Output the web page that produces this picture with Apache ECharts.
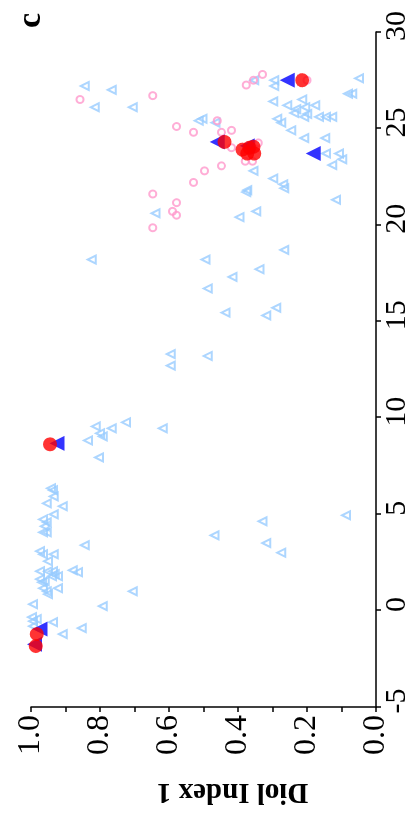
<!DOCTYPE html>
<html>
<head>
<meta charset="utf-8">
<script src="https://cdn.jsdelivr.net/npm/echarts@6/dist/echarts.min.js"></script>
<style>
    html, body { margin: 0; padding: 0; background: #fff; overflow: hidden; }
    #wrap { position: absolute; left: 0; top: 0; width: 412px; height: 814px; overflow: hidden; }
    /* the figure is printed turned on its side */
    #chart { position: absolute; left: 0; top: 0; width: 814px; height: 412px;
             transform-origin: 0 0; transform: translateY(814px) rotate(-90deg); }
</style>
</head>
<body>
<div id="wrap"><div id="chart"></div></div>
<script>
var serifFont = "'Liberation Serif', 'Times New Roman', serif";

// x ticks and y ticks
var xTicks = [-5, 0, 5, 10, 15, 20, 25, 30];
var yTicks = [0.0, 0.2, 0.4, 0.6, 0.8, 1.0];

// open light blue triangles
var lightBlueTri = [
    [27.2, 0.844], [27.0, 0.766], [26.1, 0.815], [26.1, 0.705], [25.4, 0.514], [20.6, 0.639],
    [18.2, 0.824], [13.3, 0.595], [12.7, 0.595], [27.5, 0.353], [27.5, 0.295], [27.2, 0.295],
    [27.6, 0.049], [26.8, 0.081], [26.8, 0.069], [26.4, 0.298], [26.2, 0.257], [26.5, 0.214],
    [26.1, 0.205], [26.2, 0.176], [26.0, 0.231], [25.8, 0.237], [25.75, 0.199], [25.6, 0.208],
    [25.6, 0.165], [25.6, 0.145], [25.6, 0.127], [25.5, 0.286], [25.3, 0.275], [25.5, 0.503],
    [25.3, 0.465], [24.9, 0.246], [24.5, 0.208], [24.5, 0.147], [23.7, 0.145], [23.7, 0.107],
    [23.4, 0.098], [23.1, 0.127], [22.8, 0.355], [22.4, 0.298], [22.1, 0.269], [21.9, 0.266],
    [21.8, 0.373], [21.7, 0.376], [21.3, 0.116], [20.7, 0.347], [20.4, 0.396], [18.7, 0.266],
    [18.2, 0.494], [17.7, 0.338], [17.3, 0.416], [16.7, 0.488], [15.45, 0.436], [15.7, 0.289],
    [15.3, 0.318], [13.2, 0.488], [4.63, 0.329], [4.94, 0.087], [3.9, 0.468], [3.5, 0.318],
    [3.0, 0.275], [9.76, 0.725], [9.45, 0.618], [9.55, 0.812], [9.45, 0.766], [9.19, 0.80],
    [9.03, 0.792], [8.82, 0.835], [7.94, 0.803], [6.34, 0.942], [6.24, 0.936], [5.92, 0.934],
    [5.56, 0.954], [5.41, 0.908], [4.99, 0.934], [4.73, 0.965], [4.58, 0.954], [4.37, 0.96],
    [4.06, 0.965], [4.06, 0.954], [3.39, 0.844], [3.08, 0.974], [2.92, 0.965], [2.92, 0.934],
    [2.56, 0.951], [2.04, 0.974], [2.04, 0.951], [2.04, 0.936], [1.89, 0.931], [1.78, 0.922],
    [1.78, 0.939], [2.09, 0.879], [1.99, 0.864], [1.63, 0.974], [1.47, 0.968], [1.52, 0.96],
    [1.16, 0.965], [1.0, 0.954], [0.85, 0.951], [1.16, 0.922], [1.0, 0.705], [0.33, 0.994],
    [0.23, 0.792], [-0.34, 0.997], [-0.55, 0.994], [-0.44, 0.983], [-0.6, 0.936], [-0.91, 0.853],
    [-1.22, 0.908], [-0.81, 0.994]
];
// open pink circles
var pinkCircle = [
    [26.5, 0.858], [26.7, 0.647], [25.1, 0.578], [24.8, 0.529], [22.2, 0.529], [21.6, 0.647],
    [21.15, 0.578], [20.7, 0.59], [20.5, 0.578], [19.85, 0.647], [27.8, 0.329], [27.5, 0.355],
    [27.25, 0.376], [27.5, 0.2], [25.4, 0.46], [24.8, 0.448], [24.9, 0.419], [24.0, 0.419],
    [24.25, 0.341], [23.3, 0.379], [23.3, 0.358], [23.06, 0.448], [22.8, 0.497]
];
// filled blue triangles
var blueTri = [
    [27.5, 0.257], [24.3, 0.46], [24.1, 0.373], [23.7, 0.182], [8.67, 0.925], [-0.96, 0.974],
    [-1.75, 0.99]
];
// filled red circles
var redCircle = [
    [27.5, 0.214], [24.3, 0.439], [23.9, 0.387], [24.0, 0.367], [24.05, 0.355], [23.7, 0.353],
    [23.7, 0.373], [8.62, 0.945], [-1.22, 0.983], [-1.84, 0.986]
];

var myChart = echarts.init(document.getElementById('chart'));
var axisLineStyle = { color: '#000', width: 1.5 };

var option = {
    animation: false,
    backgroundColor: '#fff',
    grid: { left: 106, right: 32, top: 31, bottom: 35 },
    xAxis: {
        type: 'value',
        min: xTicks[0],
        max: xTicks[xTicks.length - 1],
        interval: 5,
        axisLine: { show: true, onZero: false, lineStyle: axisLineStyle },
        axisTick: { show: true, inside: false, length: 5, lineStyle: axisLineStyle },
        splitLine: { show: false },
        axisLabel: {
            margin: 6,
            color: '#000',
            fontFamily: serifFont,
            fontSize: 30,
            padding: [0, 0, 0, 12],
            showMinLabel: true,
            showMaxLabel: true
        }
    },
    yAxis: {
        type: 'value',
        min: yTicks[0],
        max: yTicks[yTicks.length - 1],
        interval: 0.2,
        name: 'Diol Index 1',
        nameLocation: 'middle',
        nameGap: 70,
        nameTextStyle: {
            color: '#000',
            fontFamily: serifFont,
            fontWeight: 'bold',
            fontSize: 29,
            padding: [0, 58, 0, 0]
        },
        axisLine: { show: true, onZero: false, lineStyle: axisLineStyle },
        axisTick: { show: true, inside: false, length: 5, lineStyle: axisLineStyle },
        minorTick: { show: true, splitNumber: 2, length: 5, lineStyle: axisLineStyle },
        splitLine: { show: false },
        axisLabel: {
            margin: 8,
            color: '#000',
            fontFamily: serifFont,
            fontSize: 32,
            padding: [0, 0, 16, 0],
            formatter: function (v) { return v.toFixed(1); }
        }
    },
    graphic: [{
        type: 'text',
        left: 786,
        top: 14,
        style: {
            text: 'c',
            fill: '#000',
            font: 'bold 34px ' + serifFont
        }
    }],
    series: [
        {
            name: 'triangles',
            type: 'scatter',
            symbol: 'triangle',
            symbolSize: 8,
            itemStyle: { color: 'transparent', borderColor: '#99CCFF', borderWidth: 2 },
            data: lightBlueTri,
            z: 2
        },
        {
            name: 'circles',
            type: 'scatter',
            symbol: 'circle',
            symbolSize: 7,
            itemStyle: { color: 'transparent', borderColor: '#FF99CC', borderWidth: 2 },
            data: pinkCircle,
            z: 3
        },
        {
            name: 'blue',
            type: 'scatter',
            symbol: 'triangle',
            symbolSize: 15,
            itemStyle: { color: '#0000FF' },
            data: blueTri,
            z: 4
        },
        {
            name: 'red',
            type: 'scatter',
            symbol: 'circle',
            symbolSize: 14,
            itemStyle: { color: '#FF0000' },
            data: redCircle,
            z: 5
        }
    ]
};

myChart.setOption(option);
</script>
</body>
</html>
